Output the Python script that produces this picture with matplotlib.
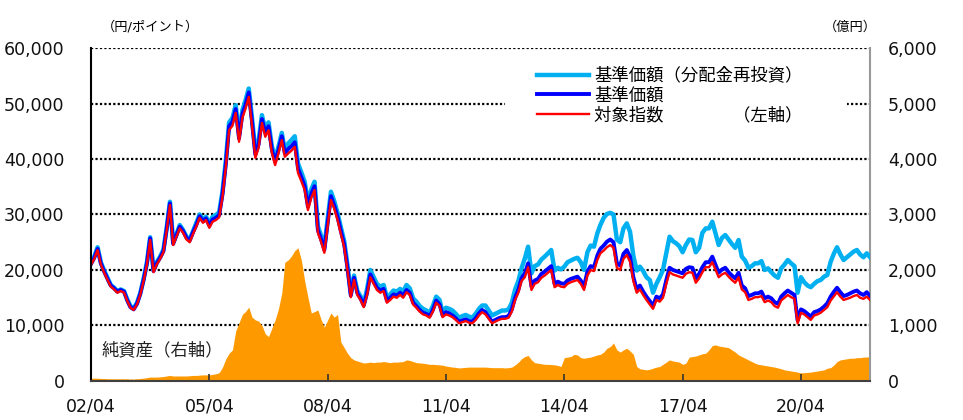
import pandas as pd
import matplotlib
matplotlib.use("Agg")
from matplotlib import pyplot as plt
from matplotlib.ticker import FuncFormatter
from matplotlib.patches import Rectangle

plt.rcParams['font.family'] = ['DejaVu Sans', 'Noto Sans CJK JP']

# monthly values, 2002/04 .. 2022/01
dates = pd.date_range('2002-04-01', periods=238, freq='MS')

# 対象指数 (left axis)
index_vals = [
    20900, 22000, 23600, 21000, 19500, 18200, 17000, 16500, 15900, 16200, 15900, 14500,
    13200, 12800, 13800, 15500, 18000, 21000, 25400, 19600, 21000, 22000, 23200, 27000,
    31700, 24500, 26000, 27500, 26700, 25500, 25000, 26500, 27800, 29400, 28500, 29000,
    27600, 28700, 29000, 29500, 33200, 38600, 45200, 46000, 48300, 43100, 47400, 49000,
    51200, 46000, 40200, 42000, 46500, 44000, 45200, 41100, 38900, 41000, 43400, 40400,
    41000, 41500, 42200, 37500, 36000, 34400, 30800, 33000, 34400, 26700, 25000, 23100,
    28000, 32600, 31000, 29000, 26500, 24100, 20000, 15100, 18200, 15500, 14500, 13300,
    15500, 18700, 17500, 16400, 15900, 16200, 14100, 14600, 15200, 15000, 15500, 15000,
    16000, 15500, 13800, 13200, 12500, 12000, 11800, 11400, 12500, 14100, 13500, 11500,
    12000, 11800, 11500, 11000, 10400, 10600, 10800, 10500, 10400, 11000, 11800, 12400,
    12000, 11200, 10400, 10700, 11000, 11200, 11200, 11400, 12500, 14600, 16000, 18000,
    18700, 20500, 16400, 17500, 17800, 18600, 19000, 19500, 20000, 16900, 17300, 17000,
    16900, 17500, 17800, 18000, 18200, 17500, 16400, 19000, 20000, 19800, 21800, 23000,
    23500, 24100, 24500, 24000, 20400, 20000, 22000, 22700, 21500, 18000, 15900, 16500,
    15500, 14600, 13800, 13000, 14600, 14300, 15000, 17500, 19600, 19200, 19000, 18800,
    18600, 19300, 19600, 19500, 17700, 18500, 19600, 20500, 20500, 21400, 20000, 18700,
    19200, 19500, 18800, 18200, 17700, 18700, 16500, 16000, 14600, 14800, 15100, 15100,
    15300, 14200, 14500, 14200, 13500, 13200, 14500, 15000, 15500, 15100, 14800, 10400,
    12300, 12000, 11500, 11000, 11800, 12000, 12300, 12800, 13300, 14500, 15300, 16000,
    15200, 14600, 14800, 15000, 15300, 15500, 15000, 14800, 15200, 14600,
]

# 基準価額
nav = [
    21100, 22200, 23800, 21200, 19700, 18400, 17200, 16700, 16100, 16400, 16100, 14600,
    13300, 12900, 13900, 15700, 18200, 21200, 25700, 19800, 21200, 22200, 23400, 27300,
    32000, 24700, 26300, 27800, 27000, 25800, 25300, 26800, 28100, 29700, 28800, 29300,
    28000, 29100, 29400, 29900, 33700, 39200, 45900, 46700, 49000, 43700, 48100, 49700,
    52000, 46700, 40800, 42600, 47200, 44700, 45900, 41700, 39500, 41600, 44100, 41000,
    41800, 42300, 43000, 38300, 36700, 35100, 31400, 33700, 35100, 27200, 25500, 23600,
    28600, 33300, 31600, 29600, 27000, 24600, 20400, 15400, 18600, 15800, 14800, 13600,
    15900, 19200, 17900, 16800, 16300, 16600, 14500, 15000, 15600, 15400, 15900, 15400,
    16400, 15900, 14100, 13500, 12800, 12300, 12100, 11700, 12800, 14500, 13800, 11800,
    12400, 12200, 11800, 11300, 10700, 10900, 11100, 10800, 10700, 11300, 12200, 12800,
    12400, 11500, 10700, 11000, 11300, 11500, 11500, 11700, 12900, 15000, 16500, 18500,
    19400, 21200, 17000, 18100, 18400, 19300, 19700, 20200, 20700, 17500, 17900, 17600,
    17500, 18100, 18400, 18600, 18800, 18100, 17000, 19700, 20700, 20500, 22600, 23800,
    24400, 25100, 25500, 25000, 21200, 20800, 22900, 23600, 22400, 18700, 16500, 17200,
    16100, 15200, 14400, 13500, 15200, 14900, 15600, 18200, 20400, 20000, 19800, 19600,
    19400, 20200, 20500, 20400, 18500, 19300, 20500, 21400, 21400, 22400, 20900, 19500,
    20100, 20400, 19600, 19000, 18500, 19500, 17200, 16700, 15300, 15500, 15800, 15800,
    16100, 14900, 15200, 14900, 14200, 13900, 15200, 15800, 16300, 15900, 15500, 10900,
    12900, 12600, 12100, 11600, 12400, 12600, 12900, 13400, 14000, 15200, 16100, 16800,
    16000, 15300, 15500, 15800, 16100, 16300, 15800, 15500, 16000, 15300,
]

# 基準価額（分配金再投資）
nav_reinv = [
    21300, 22400, 24100, 21400, 19900, 18600, 17300, 16800, 16200, 16500, 16200, 14800,
    13500, 13100, 14100, 15800, 18400, 21400, 25900, 20000, 21400, 22400, 23700, 27500,
    32300, 25000, 26500, 28100, 27200, 26000, 25500, 27000, 28400, 30000, 29100, 29600,
    28400, 29600, 29900, 30400, 34200, 39800, 46600, 47400, 49700, 44400, 48800, 50500,
    52700, 47400, 41400, 43300, 47900, 45300, 46600, 42300, 40100, 42200, 44700, 41600,
    42800, 43400, 44100, 39200, 37600, 35900, 32200, 34500, 35900, 27900, 26100, 24100,
    29300, 34100, 32400, 30300, 27700, 25200, 20900, 15800, 19000, 16200, 15200, 13900,
    16600, 20000, 18700, 17500, 17000, 17300, 15100, 15600, 16300, 16100, 16600, 16100,
    17300, 16700, 14900, 14300, 13500, 13000, 12700, 12300, 13500, 15200, 14600, 12400,
    13200, 13000, 12700, 12100, 11400, 11700, 11900, 11600, 11400, 12100, 13000, 13600,
    13600, 12700, 11800, 12100, 12400, 12700, 12700, 12900, 14100, 16500, 18100, 20300,
    22100, 24200, 19400, 20700, 21000, 21900, 22400, 23000, 23600, 19900, 20400, 20100,
    20600, 21400, 21700, 22000, 22200, 21400, 20000, 23200, 24400, 24200, 26600, 28100,
    29400, 30100, 30300, 30000, 25500, 25000, 27500, 28400, 26900, 22500, 19900, 20600,
    19800, 18700, 18200, 15900, 17500, 18700, 20000, 23000, 26000, 25200, 24800, 24300,
    23200, 24500, 25500, 25400, 23200, 24000, 26700, 27500, 27500, 28700, 26500, 24500,
    25800, 26300, 25500, 24700, 24000, 25400, 22400, 21700, 20400, 20700, 21200, 21200,
    21600, 20000, 20300, 19600, 19000, 18600, 20300, 21000, 21800, 21200, 20700, 15900,
    18700, 17800, 17200, 16900, 17500, 18000, 18200, 18800, 19100, 21500, 23000, 24100,
    22800, 21800, 22300, 22800, 23300, 23600, 22800, 22300, 23000, 22300,
]

# 純資産 (億円, right axis)
net_assets = [
    50, 50, 50, 45, 45, 40, 40, 40, 40, 40, 40, 40,
    35, 35, 40, 45, 50, 60, 70, 70, 70, 75, 80, 90,
    100, 90, 90, 90, 90, 90, 95, 100, 100, 105, 110, 110,
    110, 120, 130, 150, 250, 400, 500, 560, 900, 1050, 1200, 1250,
    1330, 1150, 1100, 1080, 1000, 850, 800, 950, 1100, 1300, 1585, 2140,
    2180, 2250, 2350, 2400, 2180, 1800, 1510, 1225, 1250, 1280, 1100, 970,
    1100, 1225, 1150, 1200, 700, 600, 500, 420, 380, 360, 340, 325,
    330, 340, 330, 340, 340, 350, 340, 330, 340, 340, 345, 350,
    380, 370, 350, 330, 325, 320, 310, 300, 300, 295, 290, 285,
    270, 260, 250, 245, 235, 240, 245, 250, 250, 250, 250, 250,
    250, 245, 240, 240, 240, 240, 235, 240, 250, 290, 340, 400,
    440, 460, 380, 330, 320, 310, 300, 300, 295, 290, 280, 260,
    420, 430, 440, 480, 470, 420, 410, 420, 430, 450, 470, 480,
    520, 590, 620, 685, 560, 520, 560, 590, 540, 480, 260, 220,
    210, 200, 210, 230, 250, 260, 300, 340, 380, 360, 350, 340,
    300, 320, 430, 440, 450, 470, 490, 500, 560, 640, 650, 630,
    620, 610, 600, 560, 520, 470, 440, 410, 380, 350, 320, 300,
    290, 280, 270, 260, 250, 235, 220, 200, 190, 180, 170, 160,
    145, 150, 155, 160, 170, 180, 190, 200, 230, 240, 290, 350,
    380, 390, 400, 410, 410, 420, 420, 430, 430, 440,
]

xtick_years = [2002, 2005, 2008, 2011, 2014, 2017, 2020]

comma = FuncFormatter(lambda v, p: '{:,.0f}'.format(v))

fig = plt.figure(figsize=(9.63, 4.2), dpi=100)
fig.patch.set_facecolor('white')
ax = fig.add_axes([0.0945, 0.0929, 0.8090, 0.7928])
ax2 = ax.twinx()
ax.set_zorder(ax2.get_zorder() + 1)
ax.patch.set_visible(False)

# net assets area on right axis
ax2.fill_between(dates, 0, net_assets, color='#FF9900', lw=0, zorder=2)
ax2.set_ylim(0, 6000)
ax2.set_yticks(range(0, 6001, 1000))
ax2.yaxis.set_major_formatter(comma)
ax2.grid(axis='y', color='black', linestyle=(0, (1, 1)), linewidth=1.6, zorder=1)
ax2.set_axisbelow(True)
ax2.tick_params(axis='y', length=0, pad=13, labelsize=12.5, labelcolor='#111111')
for s in ['left', 'top', 'bottom']:
    ax2.spines[s].set_visible(False)
ax2.spines['right'].set_color('#999999')
ax2.spines['right'].set_linewidth(1.5)

# lines on left axis
ax.plot(dates, nav_reinv, color='#00B0F0', lw=3.2, label='基準価額（分配金再投資）')
ax.plot(dates, nav, color='#0000FF', lw=2.8, label='基準価額')
ax.plot(dates, index_vals, color='#FF0000', lw=1.7, label='対象指数　　　　（左軸）')

ax.set_ylim(0, 60000)
ax.set_yticks(range(0, 60001, 10000))
ax.yaxis.set_major_formatter(comma)
ax.tick_params(axis='y', length=0, pad=19, labelsize=12.5, labelcolor='#111111')
ax.set_xlim(dates[0], dates[-1])
ax.set_xticks([pd.Timestamp(f'{y}-04-01') for y in xtick_years])
ax.set_xticklabels([f'{y % 100:02d}/04' for y in xtick_years])
ax.tick_params(axis='x', direction='in', length=5, width=1.2, color='#333333',
               pad=12, labelsize=12.5, labelcolor='#111111')
ax.spines['top'].set_visible(False)
ax.spines['right'].set_visible(False)
ax.spines['left'].set_color('black')
ax.spines['left'].set_linewidth(1.5)
ax.spines['bottom'].set_color('#404040')
ax.spines['bottom'].set_linewidth(1.5)

# white box behind legend hides the gridline there
ax.add_patch(Rectangle((0.531, 0.71), 0.44, 0.25, transform=ax.transAxes,
                       facecolor='white', edgecolor='none', zorder=3))
ax.legend(loc='upper left', bbox_to_anchor=(0.5635, 0.965), borderaxespad=0,
          frameon=False, fontsize=12.5, handlelength=3.0, handletextpad=0.3,
          labelspacing=0.1)

ax.text(0.014, 0.093, '純資産（右軸）', transform=ax.transAxes, fontsize=12.5,
        va='center', ha='left', color='#222222')
fig.text(0.156, 0.936, '（円/ポイント）', fontsize=9.5, ha='center', va='center')
fig.text(0.883, 0.936, '（億円）', fontsize=9.5, ha='center', va='center')

fig.savefig('out.png', dpi=100)
